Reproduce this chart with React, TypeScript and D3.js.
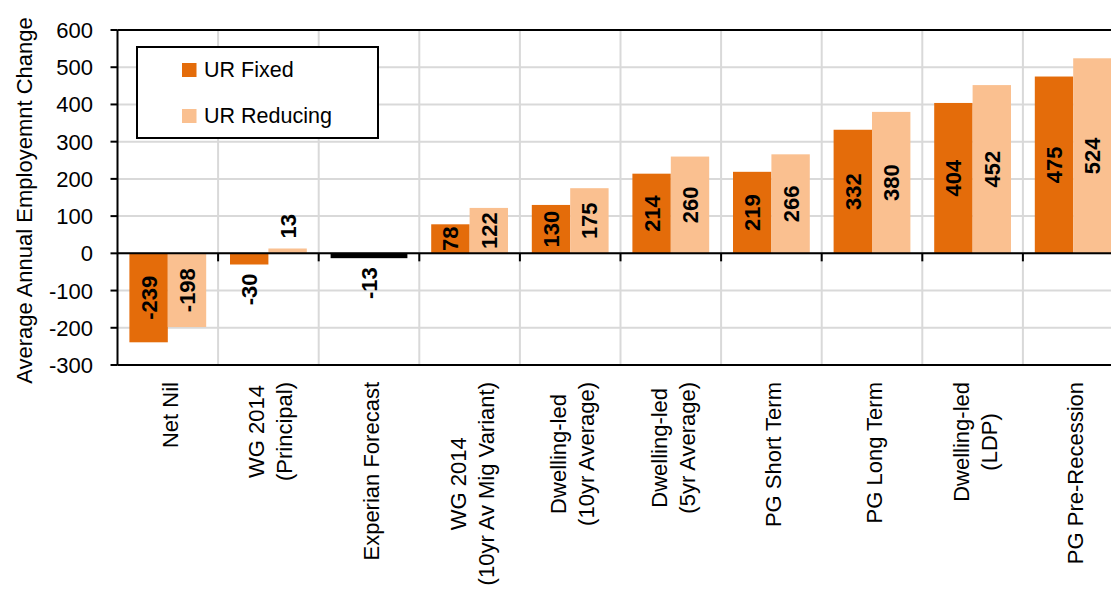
import React, { useEffect, useRef } from "react";
import * as d3 from "d3";

// Scenario names (multi-line labels split on "\n")
const categories: string[] = [
  "Net Nil",
  "WG 2014\n(Principal)",
  "Experian Forecast",
  "WG 2014\n(10yr Av Mig Variant)",
  "Dwelling-led\n(10yr Average)",
  "Dwelling-led\n(5yr Average)",
  "PG Short Term",
  "PG Long Term",
  "Dwelling-led\n(LDP)",
  "PG Pre-Recession",
];

// Average annual employment change per scenario
const urFixed: (number | null)[] = [-239, -30, null, 78, 130, 214, 219, 332, 404, 475];
const urReducing: (number | null)[] = [-198, 13, null, 122, 175, 260, 266, 380, 452, 524];
// Single-value forecast drawn across the whole group
const experian: (number | null)[] = [null, null, -13, null, null, null, null, null, null, null];

const yTicks: number[] = [-300, -200, -100, 0, 100, 200, 300, 400, 500, 600];

const seriesNames = ["UR Fixed", "UR Reducing"];
const COLORS = { fixed: "#E46C0A", reducing: "#FAC090", experian: "#000000" };

const W = 1111;
const H = 600;
const FONT = "'Liberation Sans', Arial, sans-serif";

export default function App() {
  const ref = useRef<SVGSVGElement | null>(null);

  useEffect(() => {
    const svg = d3.select(ref.current);
    svg.selectAll("*").remove();

    const left = 117.5;
    const groupW = 100.6;
    const right = left + groupW * categories.length;
    const top = 30;
    const bottom = 365;

    const y = d3.scaleLinear().domain([-300, 600]).range([bottom, top]);
    const x = d3.scaleBand<string>().domain(categories).range([left, right]).padding(0);
    const xs = d3
      .scaleBand<string>()
      .domain(["fixed", "reducing"])
      .range([0, x.bandwidth()])
      .paddingInner(0)
      .paddingOuter(0.31);

    const g = svg.append("g").attr("font-family", FONT);

    // Gridlines
    g.append("g")
      .selectAll("line")
      .data(yTicks)
      .join("line")
      .attr("x1", left)
      .attr("x2", right)
      .attr("y1", (d) => y(d))
      .attr("y2", (d) => y(d))
      .attr("stroke", "#D9D9D9")
      .attr("stroke-width", 2);

    g.append("g")
      .selectAll("line")
      .data(categories.slice(1))
      .join("line")
      .attr("x1", (d) => x(d)!)
      .attr("x2", (d) => x(d)!)
      .attr("y1", top)
      .attr("y2", bottom)
      .attr("stroke", "#D9D9D9")
      .attr("stroke-width", 2);

    // Bars
    type Bar = { cat: string; key: string; v: number; x0: number; w: number; color: string };
    const bars: Bar[] = [];
    categories.forEach((c, i) => {
      const gx = x(c)!;
      const f = urFixed[i];
      const r = urReducing[i];
      const e = experian[i];
      if (f != null) bars.push({ cat: c, key: "fixed", v: f, x0: gx + xs("fixed")!, w: xs.bandwidth(), color: COLORS.fixed });
      if (r != null) bars.push({ cat: c, key: "reducing", v: r, x0: gx + xs("reducing")!, w: xs.bandwidth(), color: COLORS.reducing });
      if (e != null)
        bars.push({ cat: c, key: "experian", v: e, x0: gx + xs("fixed")!, w: xs.bandwidth() * 2, color: COLORS.experian });
    });

    g.append("g")
      .selectAll("rect")
      .data(bars)
      .join("rect")
      .attr("x", (d) => d.x0)
      .attr("width", (d) => d.w)
      .attr("y", (d) => Math.min(y(d.v), y(0)))
      .attr("height", (d) => Math.abs(y(d.v) - y(0)))
      .attr("fill", (d) => d.color);

    // Axis lines and plot frame
    const axis = g.append("g").attr("stroke", "#000").attr("stroke-width", 2);
    axis.append("line").attr("x1", left).attr("x2", right).attr("y1", top).attr("y2", top);
    axis.append("line").attr("x1", left).attr("x2", right).attr("y1", bottom).attr("y2", bottom);
    axis.append("line").attr("x1", left).attr("x2", left).attr("y1", top).attr("y2", bottom);
    axis.append("line").attr("x1", left).attr("x2", right).attr("y1", y(0)).attr("y2", y(0));
    // y ticks
    axis
      .selectAll("line.yt")
      .data(yTicks)
      .join("line")
      .attr("class", "yt")
      .attr("x1", left - 7)
      .attr("x2", left)
      .attr("y1", (d) => y(d))
      .attr("y2", (d) => y(d));
    // category ticks on the zero line
    axis
      .selectAll("line.xt")
      .data(categories.slice(1))
      .join("line")
      .attr("class", "xt")
      .attr("x1", (d) => x(d)!)
      .attr("x2", (d) => x(d)!)
      .attr("y1", y(0))
      .attr("y2", y(0) + 8);

    // Y tick labels
    g.append("g")
      .selectAll("text")
      .data(yTicks)
      .join("text")
      .attr("x", 93)
      .attr("y", (d) => y(d) + 8)
      .attr("text-anchor", "end")
      .attr("font-size", 22)
      .attr("fill", "#000")
      .text((d) => String(d));

    // Y axis title
    g.append("text")
      .attr("transform", `translate(32,${(top + bottom) / 2 + 3}) rotate(-90)`)
      .attr("text-anchor", "middle")
      .attr("font-size", 22)
      .attr("fill", "#000")
      .text("Average Annual Employemnt Change");

    // Value labels
    const labels = g.append("g");
    bars.forEach((d) => {
      const cx = d.x0 + d.w / 2;
      const t = labels
        .append("text")
        .attr("font-size", 22)
        .attr("font-weight", "bold")
        .attr("fill", "#000")
        .attr("text-anchor", "middle")
        .text(String(d.v));
      const len = (t.node() as SVGTextElement).getComputedTextLength();
      const hgt = Math.abs(y(d.v) - y(0));
      let cy: number;
      if (hgt < 20) {
        cy = d.v < 0 ? y(d.v) + 9 + len / 2 : y(d.v) - 10 - len / 2;
      } else {
        cy = (y(d.v) + y(0)) / 2;
      }
      t.attr("transform", `translate(${cx + 8},${cy}) rotate(-90)`);
    });

    // Category labels
    const catG = g.append("g");
    categories.forEach((c) => {
      const lines = c.split("\n");
      const cx = x(c)! + x.bandwidth() / 2 + 2;
      const grp = catG.append("g").attr("transform", `translate(${cx},382) rotate(-90)`);
      const lineGap = 28;
      const texts = lines.map((ln, i) =>
        grp
          .append("text")
          .attr("font-size", 22)
          .attr("fill", "#000")
          .attr("text-anchor", "middle")
          .attr("y", 8 + (i - (lines.length - 1) / 2) * lineGap)
          .text(ln)
      );
      const maxLen = d3.max(texts, (t) => (t.node() as SVGTextElement).getComputedTextLength()) ?? 0;
      texts.forEach((t) => t.attr("x", -maxLen / 2));
    });

    // Legend
    const lg = g.append("g");
    lg.append("rect")
      .attr("x", 137)
      .attr("y", 47)
      .attr("width", 241)
      .attr("height", 91)
      .attr("fill", "#fff")
      .attr("stroke", "#000")
      .attr("stroke-width", 2);
    const legendColors = [COLORS.fixed, COLORS.reducing];
    seriesNames.forEach((name, i) => {
      const by = 77 + i * 46;
      lg.append("rect")
        .attr("x", 182)
        .attr("y", by - 14)
        .attr("width", 14.5)
        .attr("height", 14)
        .attr("fill", legendColors[i]);
      lg.append("text")
        .attr("x", 204)
        .attr("y", by)
        .attr("font-size", 21.5)
        .attr("fill", "#000")
        .text(name);
    });
  }, []);

  return (
    <svg
      ref={ref}
      width={W}
      height={H}
      style={{ position: "absolute", left: 0, top: 0, background: "#fff" }}
    />
  );
}
